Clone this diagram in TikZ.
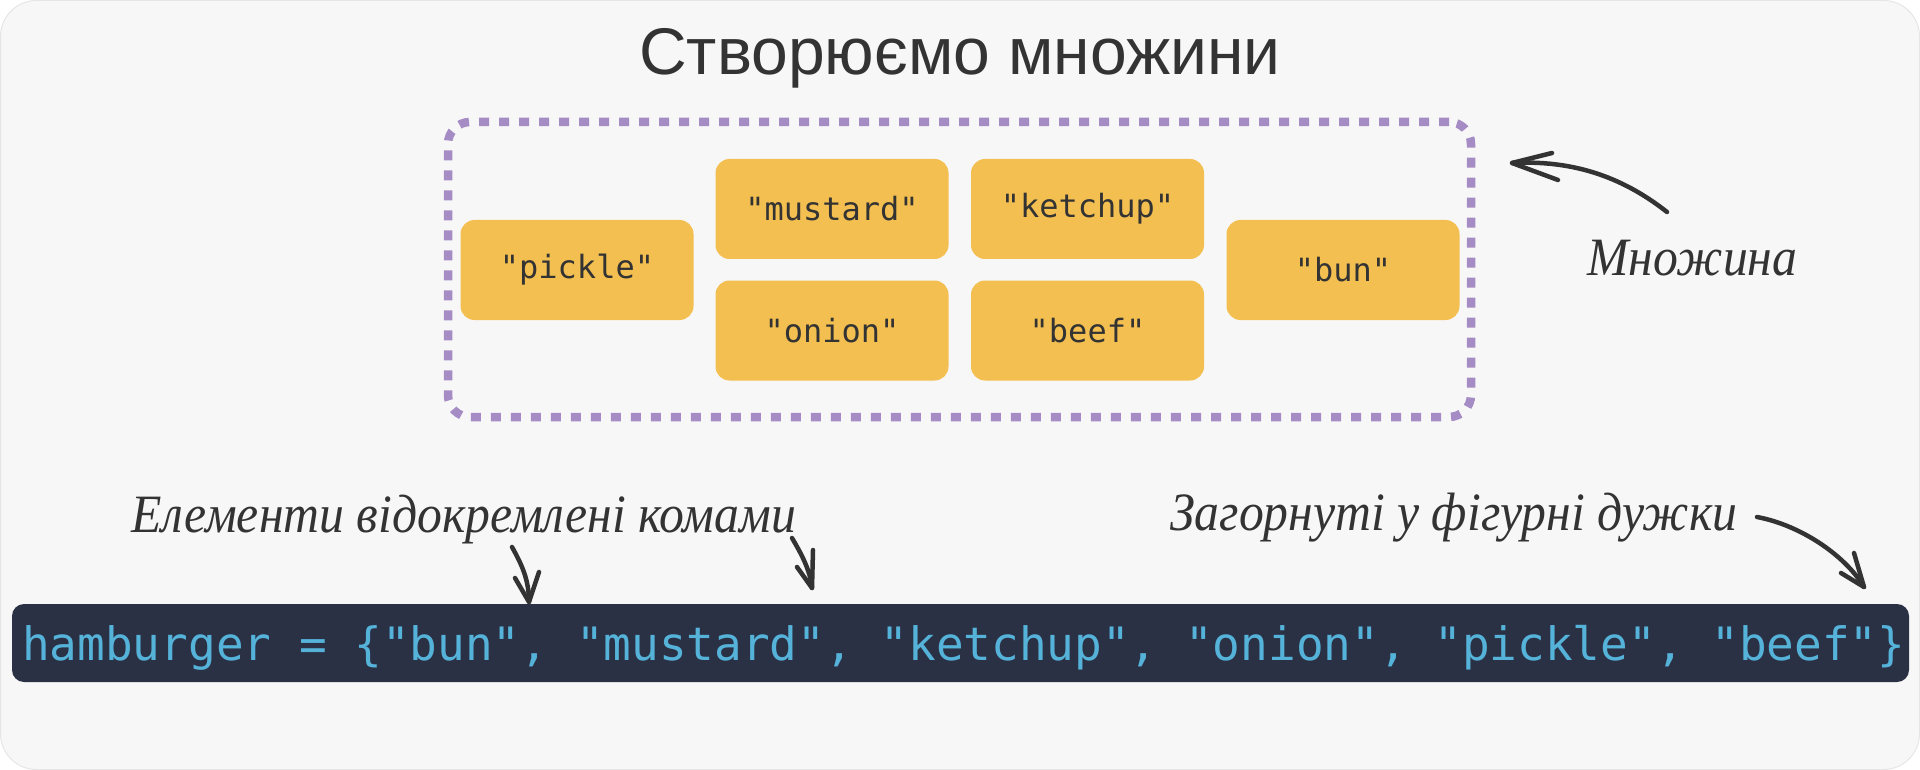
\documentclass[tikz,border=0pt]{standalone}
\usepackage{fontspec}
\usepackage{graphicx}
\setmainfont{Liberation Sans}
\newfontfamily\titlefont{Liberation Sans}
\newfontfamily\monofont{DejaVu Sans Mono}
\newfontfamily\handfont{Liberation Serif}
\definecolor{ink}{HTML}{333333}
\definecolor{bg}{HTML}{F7F7F7}
\definecolor{bgline}{HTML}{E6E6E6}
\definecolor{setc}{HTML}{A68CC4}
\definecolor{itemfill}{HTML}{F3BF50}
\definecolor{codebg}{HTML}{2B3145}
\definecolor{codetext}{HTML}{55B3DA}
\newcommand{\handtext}[1]{\scalebox{0.92}[1]{#1}}
\begin{document}
\begin{tikzpicture}[x=1pt,y=-1pt,
  item/.style={fill=itemfill, rounded corners=14pt, minimum width=233pt, minimum height=100pt, inner sep=0pt, font=\monofont\fontsize{32}{38}\selectfont, text=ink},
  hand/.style={font=\handfont\itshape\fontsize{54}{60}\selectfont, text=ink, inner sep=0pt, anchor=base west},
  pen/.style={draw=ink, line width=4.5pt, line cap=round, line join=round}]
\useasboundingbox (0,0) rectangle (1920,770);
\fill[white] (0,0) rectangle (1920,770);
\draw[fill=bg, draw=bgline, line width=1pt, rounded corners=36pt] (0.5,0.5) rectangle (1919.5,769.5);
\node[font=\titlefont\fontsize{66}{72}\selectfont, text=ink] (title) at (960,58) {Створюємо множини};
\node[draw=setc, line width=8.5pt, dash pattern=on 10pt off 10pt, rounded corners=22pt, minimum width=1023pt, minimum height=295pt, inner sep=0pt] (set) at (959.5,269.5) {};
\node[item] (pickle) at (577,270) {"pickle"};
\node[item] (mustard) at (832,209) {"mustard"};
\node[item] (ketchup) at (1087.5,209) {"ketchup"};
\node[item] (onion) at (832,330.5) {"onion"};
\node[item] (beef) at (1087.5,330.5) {"beef"};
\node[item] (bun) at (1343,270) {"bun"};
\node[fill=codebg, rounded corners=12pt, minimum width=1897pt, minimum height=78pt, inner sep=0pt] (codebox) at (960.5,643) {};
\node[anchor=base west, inner sep=0pt, text=codetext, font=\monofont\fontsize{46}{50}\selectfont] (code) at (22,660) {hamburger = \{"bun", "mustard", "ketchup", "onion", "pickle", "beef"\}};
\node[hand] (mn) at (1587,276) {\handtext{Множина}};
\node[hand] (elem) at (131,532) {\handtext{Елементи відокремлені комами}};
\node[hand] (zag) at (1170,530) {\handtext{Загорнуті у фігурні дужки}};
% arrow to set
\coordinate (m1) at (1667,212);
\coordinate (m2) at (1512,163);
\coordinate (mb1) at (1552,153);
\coordinate (mb2) at (1558,180);
\draw[pen] (m1) .. controls (1620,175) and (1570,160) .. (m2);
\draw[pen] (mb1) -- (m2) -- (mb2);
% arrows to commas
\coordinate (a1) at (512,547);
\coordinate (a1t) at (529,602);
\coordinate (a1l) at (515,578);
\coordinate (a1r) at (539,572);
\draw[pen] (a1) .. controls (522,565) and (529,580) .. (a1t);
\draw[pen] (a1l) -- (a1t) -- (a1r);
\coordinate (a2) at (792,538);
\coordinate (a2t) at (812,588);
\coordinate (a2l) at (797,567);
\coordinate (a2r) at (813,550);
\draw[pen] (a2) .. controls (802,555) and (810,570) .. (a2t);
\draw[pen] (a2l) -- (a2t) -- (a2r);
% arrow to braces
\coordinate (z1) at (1757,517);
\coordinate (z1t) at (1864,587);
\coordinate (z1a) at (1854,553);
\coordinate (z1b) at (1841,573);
\draw[pen] (z1) .. controls (1800,525) and (1845,555) .. (z1t);
\draw[pen] (z1a) -- (z1t) -- (z1b);
\end{tikzpicture}
\end{document}
